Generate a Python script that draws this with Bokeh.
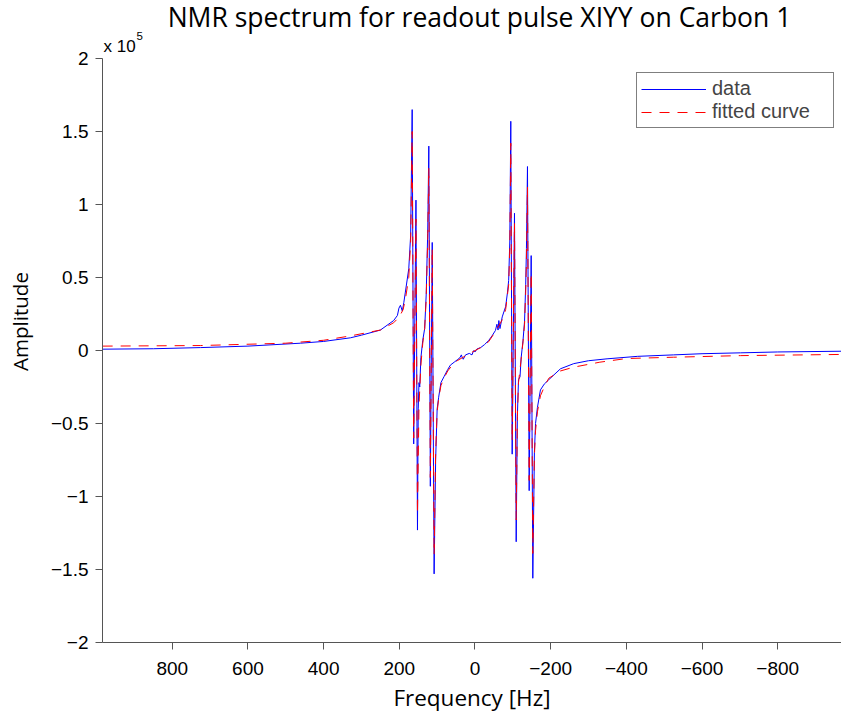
from bokeh.plotting import figure
from bokeh.models import (Range1d, FixedTicker, CustomJSTickFormatter, Legend, LegendItem,
                          Label, LinearAxis)
from bokeh.embed import file_html
from bokeh.resources import INLINE

# ---- data (frequency in Hz, amplitude in raw units) ----
data_freq = [984, 850, 725, 600, 461, 400, 329, 300, 250, 215, 205, 201, 197, 192, 188, 184,
             175, 170, 166, 162, 156, 152, 150, 148, 146, 143, 138, 133, 129, 125, 122, 118,
             113, 108, 104, 100, 96, 90, 82, 72, 65, 55, 47, 40, 36, 34, 31, 25, 15, 8, 5, 3, 0,
             -5, -15, -25, -36, -45, -54, -58, -61, -63, -66, -72, -77, -81, -86, -89, -92,
             -94.6, -98.3, -104.4, -108.9, -112, -115, -119, -122, -127, -131, -134, -136,
             -138.7, -143.2, -148.5, -152.8, -157, -160, -165, -173, -183, -195, -226, -261,
             -300, -349, -430, -525, -600, -702, -800, -969]
data_amp = [900, 1200, 2000, 3000, 5000, 6200, 8700, 10500, 14000, 20500, 24000, 29000, 31000,
            27000, 33000, 40000, 56000, 79000, 165000, -64000, 103000, -123000, -40000, -22000,
            -25000, -5000, 7000, 15000, 38000, 80000, 140000, -93000, 74000, -153000, -75000,
            -40000, -32000, -22000, -18000, -13000, -10000, -8000, -6400, -5000, -3000, -4600,
            -6000, -3000, -2000, -3000, -1000, 0, -1000, 1000, 2000, 4000, 6800, 10000, 13700,
            18000, 14000, 20500, 15000, 23000, 27000, 30000, 40000, 48000, 75000, 157000,
            -71000, 94000, -131000, -45000, -20000, -18000, -5000, 7000, 20000, 45000, 70000,
            126000, -96000, 65000, -156000, -70000, -50000, -39000, -27000, -23000, -20000,
            -12500, -9000, -7000, -5700, -4000, -3000, -2200, -1600, -1000, -500]

fit_freq = [984, 725, 500, 400, 329, 250, 215, 200, 190, 184, 175, 170, 166, 162, 156, 152, 148,
            143, 138, 133, 129, 125, 122, 118, 113, 108, 104, 100, 96, 90, 82, 72, 60, 47, 34,
            20, 3, -15, -36, -54, -72, -81, -89, -92, -94.6, -98.3, -104.4, -108.9, -112, -115,
            -122, -127, -131, -134, -136, -138.7, -143.2, -148.5, -152.8, -157, -160, -165,
            -173, -183, -195, -226, -261, -330, -400, -525, -702, -969]
fit_amp = [3000, 3400, 5000, 7000, 10000, 14000, 19000, 23000, 28000, 35000, 50000, 75000,
           150000, -60000, 90000, -112000, -38000, -10000, 5000, 15000, 35000, 75000, 125000,
           -87000, 70000, -140000, -70000, -42000, -33000, -24000, -19000, -14000, -10000,
           -7000, -5000, -3000, -500, 2000, 6000, 13000, 21000, 28000, 45000, 70000, 142000,
           -62000, 87000, -116000, -45000, -22000, -6000, 6000, 18000, 40000, 62000, 112000,
           -89000, 53000, -139000, -72000, -55000, -42000, -31000, -25000, -19000, -14000,
           -11400, -8000, -5500, -4600, -3500, -2700]

x_ticks = [800, 600, 400, 200, 0, -200, -400, -600, -800]
y_ticks = [-200000, -150000, -100000, -50000, 0, 50000, 100000, 150000, 200000]

title_text = "NMR spectrum for readout pulse XIYY on Carbon 1"
mult_text = "x 10"
exp_text = "5"
x_label = "Frequency [Hz]"
y_label = "Amplitude"

# ---- layout constants ----
W, H = 841, 717
FRAME_BOTTOM_PAD = 75
FRAME_H = H - FRAME_BOTTOM_PAD          # frame spans the full top of the canvas
AX_TOP_PX = 58                          # pixel row of the y = 2e5 tick
X_START, X_END = 984.4, -968.6
Y_MIN, Y_MAX = -200000, 200000
Y_TOP = Y_MIN + (Y_MAX - Y_MIN) * FRAME_H / (FRAME_H - AX_TOP_PX)

p = figure(width=W, height=H, output_backend="svg", toolbar_location=None,
           x_range=Range1d(X_START, X_END), y_range=Range1d(Y_MIN, Y_TOP),
           min_border_left=102, min_border_right=0, min_border_top=0,
           min_border_bottom=FRAME_BOTTOM_PAD, title=None)
p.extra_y_ranges = {"ylab": Range1d(0, FRAME_H)}

p.background_fill_color = "white"
p.border_fill_color = "white"
p.outline_line_color = None
p.xgrid.grid_line_color = None
p.ygrid.grid_line_color = None

for ax in (p.xaxis[0], p.yaxis[0]):
    ax.axis_line_color = "#555555"
    ax.major_tick_line_color = "#555555"
    ax.major_tick_out = 7
    ax.major_tick_in = 0
    ax.minor_tick_line_color = None
    ax.major_label_text_font = "Liberation Sans"
    ax.major_label_text_font_size = "19px"
    ax.major_label_text_color = "black"
    ax.axis_label_text_font = "Open Sans"
    ax.axis_label_text_font_style = "normal"
    ax.axis_label_text_color = "black"

p.yaxis[0].bounds = (Y_MIN, Y_MAX)
p.xaxis.axis_label_text_font_size = "22.5px"
p.xaxis.ticker = FixedTicker(ticks=x_ticks)
p.yaxis.ticker = FixedTicker(ticks=y_ticks)
p.xaxis.formatter = CustomJSTickFormatter(code="""
    return (tick < 0 ? "\u2212" : "") + Math.abs(tick).toString();
""")
p.yaxis.formatter = CustomJSTickFormatter(code="""
    const v = tick / 1e5;
    return (v < 0 ? "\u2212" : "") + Math.abs(v).toString();
""")
p.xaxis.axis_label = x_label
p.xaxis.major_label_standoff = 12
p.yaxis.major_label_standoff = 7
p.xaxis.axis_label_standoff = 4

# y-axis title carried by a label-only axis (centred where the reference puts it)
ylab_axis = LinearAxis(y_range_name="ylab", ticker=FixedTicker(ticks=[]),
                       axis_line_color=None, major_tick_line_color=None,
                       minor_tick_line_color=None, bounds=(0, 640),
                       axis_label=y_label, axis_label_standoff=14,
                       axis_label_text_font="Open Sans", axis_label_text_font_size="20.5px",
                       axis_label_text_font_style="normal", axis_label_text_color="black")
p.add_layout(ylab_axis, "left")

r_data = p.line(data_freq, data_amp, line_color="blue", line_width=1)
r_fit = p.line(fit_freq, fit_amp, line_color="red", line_width=1, line_dash="10 8")

legend = Legend(items=[LegendItem(label="data", renderers=[r_data]),
                       LegendItem(label="fitted curve", renderers=[r_fit])],
                location=(534, FRAME_H - 128))
legend.border_line_color = "black"
legend.border_line_width = 1
legend.background_fill_color = "white"
legend.background_fill_alpha = 1
legend.label_text_font = "Liberation Sans"
legend.label_text_font_size = "20px"
legend.glyph_width = 65
legend.glyph_height = 20
legend.label_standoff = 6
legend.label_width = 117
legend.spacing = 0
legend.padding = 4
legend.margin = 0
p.add_layout(legend)

title = Label(x=(X_START + X_END) / 2, y=Y_MAX, x_offset=7.5, y_offset=42,
              text=title_text, text_align="center", text_baseline="alphabetic",
              text_font="Open Sans", text_font_size="26.5px", text_color="black")
mult = Label(x=X_START, y=Y_MAX, x_offset=1, y_offset=12,
             text=mult_text, text_align="left", text_baseline="alphabetic",
             text_font="Liberation Sans", text_font_size="17px", text_color="black")
expo = Label(x=X_START, y=Y_MAX, x_offset=34, y_offset=23,
             text=exp_text, text_align="left", text_baseline="alphabetic",
             text_font="Liberation Sans", text_font_size="11.5px", text_color="black")
for lab in (title, mult, expo):
    p.add_layout(lab)

open("out.html", "w").write(file_html(p, INLINE))
